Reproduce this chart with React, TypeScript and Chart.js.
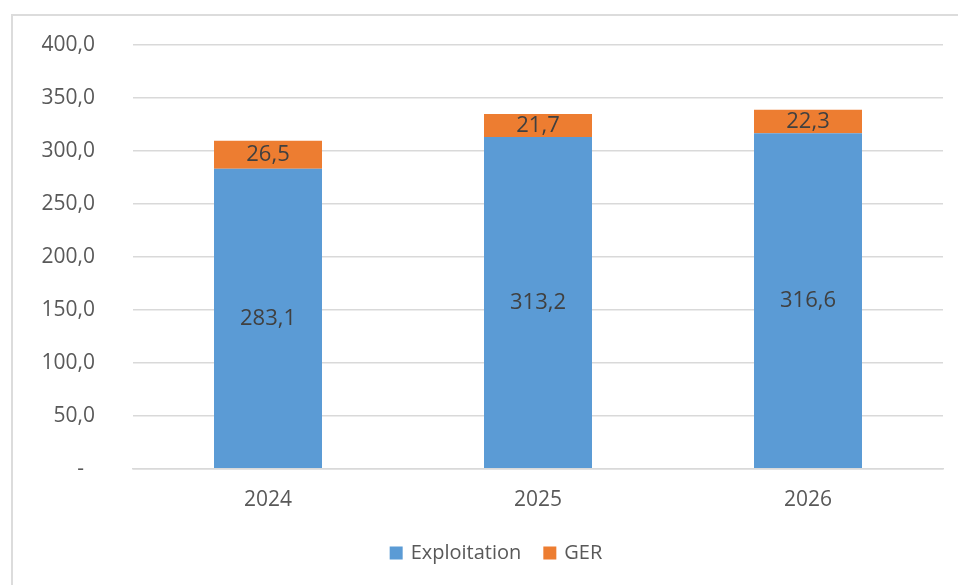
import React, { useEffect, useRef } from "react";
import { Chart, registerables } from "chart.js";

Chart.register(...registerables);

const categories = ["2024", "2025", "2026"];
const exploitation = [283.1, 313.2, 316.6];
const ger = [26.5, 21.7, 22.3];
const seriesNames = ["Exploitation", "GER"];
const colors = ["#5B9BD5", "#ED7D31"];

const FONT = "'Open Sans', 'Noto Sans', sans-serif";
const NUM_SIZE = 21;

const fmt = (v: number) => v.toFixed(1).replace(".", ",");

const labelPlugin = {
  id: "segLabels",
  afterDatasetsDraw(chart: any) {
    const ctx = chart.ctx;
    ctx.save();
    ctx.fillStyle = "#404040";
    ctx.font = `22px ${FONT}`;
    ctx.textAlign = "center";
    ctx.textBaseline = "middle";
    chart.data.datasets.forEach((ds: any, di: number) => {
      const meta = chart.getDatasetMeta(di);
      meta.data.forEach((bar: any, i: number) => {
        const y = (bar.y + bar.base) / 2;
        ctx.fillText(fmt(ds.data[i]), bar.x, y);
      });
    });
    ctx.restore();
  },
};

// Custom bottom legend, centred on the chart frame
const legendPlugin = {
  id: "customLegend",
  afterDraw(chart: any) {
    const ctx = chart.ctx;
    ctx.save();
    ctx.font = `20px ${FONT}`;
    ctx.textBaseline = "middle";
    const box = 13;
    const gapBoxText = 8;
    const gapItems = 22;
    const items = chart.data.datasets.map((ds: any) => ({
      text: ds.label,
      color: ds.backgroundColor,
      w: box + gapBoxText + ctx.measureText(ds.label).width,
    }));
    const total = items.reduce((a: number, it: any) => a + it.w, 0) + gapItems * (items.length - 1);
    const centerX = 496;
    const y = 553;
    let x = centerX - total / 2;
    items.forEach((it: any) => {
      ctx.fillStyle = it.color;
      ctx.fillRect(x, y - box / 2, box, box);
      ctx.fillStyle = "#595959";
      ctx.textAlign = "left";
      ctx.fillText(it.text, x + box + gapBoxText, y);
      x += it.w + gapItems;
    });
    ctx.restore();
  },
};

export default function App() {
  const ref = useRef<HTMLCanvasElement>(null);
  useEffect(() => {
    document.body.style.margin = "0";
    const chart = new Chart(ref.current!, {
      type: "bar",
      data: {
        labels: categories,
        datasets: [
          { label: seriesNames[0], data: exploitation, backgroundColor: colors[0] },
          { label: seriesNames[1], data: ger, backgroundColor: colors[1] },
        ],
      },
      options: {
        animation: false,
        responsive: false,
        maintainAspectRatio: false,
        layout: { padding: { left: 20, right: 15, top: 45, bottom: 53 } },
        datasets: { bar: { categoryPercentage: 1, barPercentage: 0.4 } },
        scales: {
          x: {
            stacked: true,
            grid: { display: false, drawTicks: false },
            border: { display: true, color: "#d9d9d9", width: 1.5 },
            ticks: { color: "#595959", font: { family: FONT, size: NUM_SIZE }, padding: 19 },
          },
          y: {
            stacked: true,
            min: 0,
            max: 400,
            afterFit: (s: any) => {
              s.width = 113;
              s.paddingTop = 0;
              s.paddingBottom = 0;
            },
            grid: { color: "#d9d9d9", lineWidth: 1.5, drawTicks: false },
            border: { display: false },
            ticks: {
              stepSize: 50,
              padding: 38,
              color: "#595959",
              font: { family: FONT, size: NUM_SIZE },
              callback: (v: any) => (Number(v) === 0 ? "-  " : fmt(Number(v))),
            },
          },
        },
        plugins: {
          tooltip: { enabled: false },
          legend: { display: false },
        },
      },
      plugins: [labelPlugin, legendPlugin],
    });
    return () => chart.destroy();
  }, []);
  return (
    <div style={{ position: "absolute", left: 0, top: 0, width: 958, height: 585, overflow: "hidden", background: "#fff" }}>
      <div style={{ position: "absolute", left: 11, top: 14, width: 1000, height: 700, border: "2px solid #dcdcdc" }} />
      <canvas ref={ref} width={958} height={585} style={{ position: "absolute", left: 0, top: 0 }} />
    </div>
  );
}
